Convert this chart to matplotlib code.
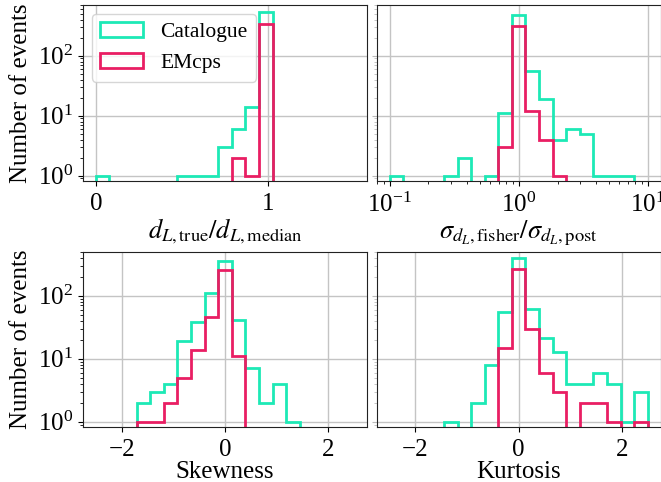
import numpy as np
import matplotlib
matplotlib.use("Agg")
import matplotlib.pyplot as plt

plt.rcParams.update({
    "font.family": "serif",
    "font.serif": ["Liberation Serif", "DejaVu Serif"],
    "mathtext.fontset": "stix",
    "font.size": 18,
    "axes.edgecolor": "#222222",
    "grid.color": "#c4c4c4",
    "grid.linewidth": 1.0,
    "xtick.major.pad": 5,
})

C_CAT = "#1DE9B6"
C_EM = "#E91E63"

# ── Bins ──────────────────────────────────────────────────────────────────────
ratio_edges = np.linspace(0, 1.5, 20)
sigma_edges = np.logspace(-1, 1, 20)
moment_edges = np.linspace(-2.5, 2.5, 20)

# ── Counts per bin ────────────────────────────────────────────────────────────
ratio_cat = [1, 0, 0, 0, 0, 0, 1, 1, 1, 3, 6, 14, 541, 0, 0, 0, 0, 0, 0]
ratio_em = [0, 0, 0, 0, 0, 0, 0, 0, 0, 0, 2, 1, 334, 0, 0, 0, 0, 0, 0]

sigma_cat = [1, 0, 0, 0, 1, 2, 0, 1, 11, 477, 56, 19, 4, 6, 5, 1, 1, 1, 0]
sigma_em = [0, 0, 0, 0, 0, 0, 0, 0, 3, 313, 12, 4, 1, 0, 0, 0, 0, 0, 0]

skew_cat = [0, 0, 0, 2, 3, 4, 19, 38, 112, 355, 41, 7, 2, 4, 1, 0, 0, 0, 0]
skew_em = [0, 0, 0, 1, 1, 2, 5, 14, 46, 256, 11, 0, 0, 0, 0, 0, 0, 0, 0]

kurt_cat = [0, 0, 0, 0, 1, 0, 2, 8, 56, 401, 61, 21, 13, 4, 4, 6, 4, 1, 3]
kurt_em = [0, 0, 0, 0, 0, 0, 0, 0, 15, 265, 30, 6, 3, 0, 2, 2, 1, 0, 1]

# ── Layout ────────────────────────────────────────────────────────────────────
fig = plt.figure(figsize=(6.61, 4.82), dpi=100)
W, H = 661, 482


def rect(x0, y0, x1, y1):
    return [x0 / W, 1 - y1 / H, (x1 - x0) / W, (y1 - y0) / H]


ax_r = fig.add_axes(rect(83, 5, 367, 181))
ax_s = fig.add_axes(rect(376.7, 5, 660.7, 181), sharey=ax_r)
ax_k = fig.add_axes(rect(83, 251.7, 367, 427.3))
ax_t = fig.add_axes(rect(376.7, 251.7, 660.7, 427.3), sharey=ax_k)


def draw(ax, edges, cat, em):
    ax.hist(edges[:-1], bins=edges, weights=cat, histtype="step",
            log=True, color=C_CAT, lw=2.0, label="Catalogue")
    ax.hist(edges[:-1], bins=edges, weights=em, histtype="step",
            log=True, color=C_EM, lw=2.0, label="EMcps")
    ax.grid(True, which="major")
    ax.set_axisbelow(True)


draw(ax_r, ratio_edges, ratio_cat, ratio_em)
draw(ax_s, sigma_edges, sigma_cat, sigma_em)
draw(ax_k, moment_edges, skew_cat, skew_em)
draw(ax_t, moment_edges, kurt_cat, kurt_em)

ax_s.set_xscale("log")
ax_s.set_xlim(10 ** -1.1, 10 ** 1.1)
ax_r.set_xlim(-0.075, 1.575)
ax_r.set_xticks([0, 1])
for ax in (ax_k, ax_t):
    ax.set_xlim(-2.75, 2.75)
    ax.set_xticks([-2, 0, 2])

ax_r.set_ylim(0.816, 700)
ax_k.set_ylim(0.815, 500)

for ax in (ax_s, ax_t):
    ax.tick_params(axis="y", which="both", labelleft=False, color="#bbbbbb")

ax_r.set_ylabel("Number of events")
ax_k.set_ylabel("Number of events")
ax_r.set_xlabel(r"$d_{L,\mathrm{true}}/d_{L,\mathrm{median}}$",
                fontsize=19, labelpad=1)
ax_s.set_xlabel(r"$\sigma_{d_L,\mathrm{fisher}}/\sigma_{d_L,\mathrm{post}}$",
                fontsize=19, labelpad=1)
ax_k.set_xlabel("Skewness", labelpad=0)
ax_t.set_xlabel("Kurtosis", labelpad=0)

ax_r.legend(loc="upper left", fontsize=15.5, borderaxespad=0.4)

fig.savefig("out.png", dpi=100)
